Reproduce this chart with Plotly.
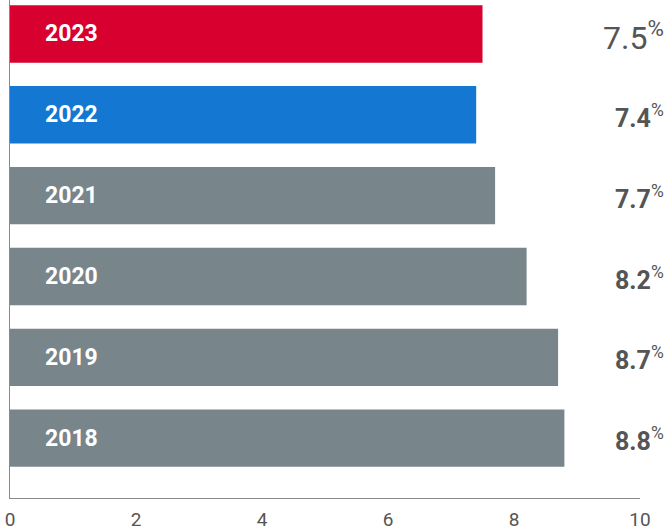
import plotly.graph_objects as go

years = ["2018", "2019", "2020", "2021", "2022", "2023"]
values = [8.8, 8.7, 8.2, 7.7, 7.4, 7.5]
colors = ["#78858B", "#78858B", "#78858B", "#78858B", "#1478D3", "#D7002F"]
ticks = [0, 2, 4, 6, 8, 10]

pos = list(range(len(years)))

fig = go.Figure()
fig.add_trace(go.Bar(
    x=values, y=pos, orientation="h", marker=dict(color=colors, line=dict(width=0)),
    width=0.71, hoverinfo="skip", showlegend=False,
))

for p, yr, v in zip(pos, years, values):
    fig.add_annotation(x=0.53, y=p, xref="x", yref="y", text=f"<b>{yr}</b>",
                       showarrow=False, xanchor="left", yanchor="middle",
                       font=dict(family="Roboto", size=23, color="white"))
    big = (yr == "2023")
    txt = f"{v:.1f}<sup>%</sup>" if big else f"<b>{v:.1f}</b><sup>%</sup>"
    fig.add_annotation(x=1.041, y=p - 0.02, xref="paper", yref="y", text=txt,
                       showarrow=False, xanchor="right", yanchor="middle",
                       font=dict(family="Roboto", size=32 if big else 25, color="#555555"))

fig.update_layout(
    width=667, height=532,
    margin=dict(l=10, r=27, t=0, b=34),
    plot_bgcolor="white", paper_bgcolor="white",
    xaxis=dict(range=[0, 10], tickvals=ticks, showgrid=False, zeroline=False,
               showline=True, linecolor="#8a8a8a", linewidth=1, automargin=False,
               ticklabelstandoff=4,
               tickfont=dict(family="Roboto", size=19, color="#555555"), ticks=""),
    yaxis=dict(range=[-0.74, 5.42], showticklabels=False, showgrid=False, zeroline=False,
               showline=True, linecolor="#8a8a8a", linewidth=1, ticks="", automargin=False),
)
fig.write_html("out.html", config={"displayModeBar": False},
               post_script="document.body.style.margin='0';document.body.style.padding='0';")
